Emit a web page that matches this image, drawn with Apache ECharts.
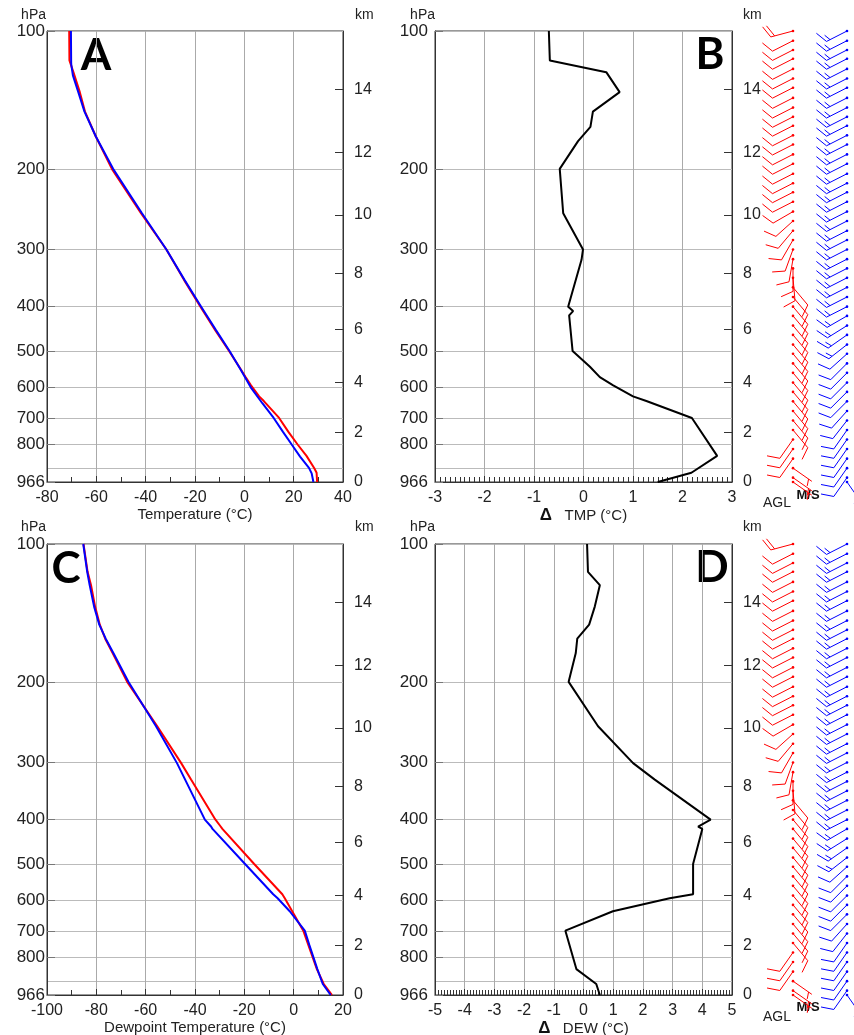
<!DOCTYPE html>
<html><head><meta charset="utf-8">
<script src="https://cdn.jsdelivr.net/npm/echarts@6/dist/echarts.min.js"></script>
<style>html,body{margin:0;padding:0;background:#fff}#c{width:854px;height:1035px}</style>
</head><body><div id="c"></div>
<script>
// ---------- axis ticks ----------
const P_TICKS = [100,200,300,400,500,600,700,800,900,966];
const KM_TICK_P = [966,754,585,449,338,252,184,134];
const KM_LABELS = ['0','2','4','6','8','10','12','14'];

// ---------- Panel A : temperature ----------
const A_BLUE_P = [100,118,125,135,150,170,200,250,300,350,400,450,500,550,600,650,700,750,800,850,900,925,966];
const A_BLUE_T = [-70.3,-70.2,-69.5,-67.5,-64.8,-60.2,-53.2,-41.5,-31.6,-24.2,-17.5,-11.5,-6.0,-1.4,2.6,7.3,11.9,15.6,19.2,22.6,26.2,27.3,28.0];
const A_RED_P = [100,116,123,136,150,170,200,250,300,350,400,450,500,541,570,594,628,643,700,750,800,847,900,922,966];
const A_RED_T = [-71.0,-70.9,-69.3,-66.7,-64.6,-60.2,-53.7,-41.9,-31.6,-24.4,-17.8,-11.8,-6.2,-2.1,0.5,2.7,6.0,7.9,14.1,17.8,21.6,25.2,28.3,29.3,29.5];

// ---------- Panel B : delta TMP ----------
const B_P = [100,116,123,136,150,162,174,200,250,300,316,400,409,418,500,541,570,594,628,643,700,847,922,966];
const B_D = [-0.70,-0.68,0.46,0.73,0.19,0.14,-0.11,-0.48,-0.41,-0.01,-0.04,-0.31,-0.21,-0.29,-0.22,0.13,0.33,0.60,1.00,1.27,2.19,2.70,2.18,1.50];

// ---------- Panel C : dewpoint ----------
const C_BLUE_P = [100,115,123,137,150,161,173,200,250,301,327,400,414,419,500,582,594,634,699,750,848,914,966];
const C_BLUE_T = [-85.3,-83.7,-82.7,-80.9,-78.8,-76.2,-73.1,-67.0,-55.8,-47.3,-44.0,-36.0,-33.5,-32.9,-19.7,-8.3,-6.5,-1.6,4.5,6.3,9.6,11.8,15.0];
const C_RED_P = [100,115,123,137,150,161,173,200,250,301,327,400,414,419,500,582,594,634,699,848,914,966];
const C_RED_T = [-85.2,-83.55,-82.15,-80.5,-78.6,-76.4,-73.4,-67.5,-55.3,-45.6,-41.6,-31.7,-29.6,-28.9,-16.0,-4.6,-3.6,-0.6,3.9,9.4,12.2,15.55];

// ---------- Panel D : delta DEW ----------
const D_P = [100,115,123,137,150,161,173,200,250,301,327,400,414,419,500,582,594,634,699,848,914,966];
const D_D = [0.12,0.15,0.55,0.38,0.19,-0.21,-0.26,-0.50,0.49,1.67,2.40,4.28,3.86,4.00,3.69,3.69,2.90,0.99,-0.61,-0.24,0.43,0.55];

// ---------- wind barbs (pressure hPa, speed m/s, direction deg) ----------
const BARB_P = [100,105,110,115,121,127,133,140,147,154,161,169,177,186,195,205,215,225,236,248,260,273,286,300,315,330,346,363,381,400,419,440,461,484,507,532,558,586,614,644,676,709,744,780,818,859,901,945,966];
const RED_BARB_SPD = [20,10,10,10,10,10,10,10,10,10,10,10,10,10,10,10,10,10,10,10,10,10,10,10,10,10,10,10,10,10,10,10,10,10,10,10,10,10,10,10,10,10,10,10,10,10,5,5,5];
const RED_BARB_DIR = [255,243,243,243,243,243,243,243,243,243,243,243,243,243,243,243,243,243,243,240,228,220,210,200,190,180,175,140,140,140,140,140,140,140,140,140,140,140,140,140,140,140,140,215,215,215,125,125,125];
const BLUE_BARB_SPD = [15,15,15,15,15,15,15,15,15,15,15,15,15,15,15,15,15,15,15,15,15,15,15,15,15,15,15,15,15,15,15,15,15,15,10,10,10,10,10,10,10,10,10,10,10,10,10,10,5];
const BLUE_BARB_DIR = [243,243,243,243,243,243,243,243,243,243,243,243,243,243,243,243,243,243,243,243,243,243,243,243,243,243,243,243,243,243,240,238,235,232,228,225,225,225,225,225,222,218,215,215,215,215,215,215,145];

const RED = '#ff0000', BLUE = '#0000ff';
const FONT = 'Liberation Sans, Arial, sans-serif';
const zip = (xs, ps) => xs.map((v, i) => [v, ps[i]]);
const nearestKm = v => { let bi = 0, bd = 1e9; KM_TICK_P.forEach((q, i) => { const d = Math.abs(q - v); if (d < bd) { bd = d; bi = i; } }); return KM_LABELS[bi]; };

function pAxis(grid, margin) {
  return {
    type: 'log', logBase: 10, gridIndex: grid, position: 'left', inverse: true, min: 100, max: 966,
    axisLine: {show: true, onZero: false, lineStyle: {color: '#333', width: 1}},
    axisTick: {show: true, inside: true, length: 8, customValues: P_TICKS, lineStyle: {color: '#777'}},
    axisLabel: {customValues: P_TICKS, margin: margin, color: '#222', fontSize: 17, fontFamily: FONT,
      hideOverlap: false, showMinLabel: true, showMaxLabel: true, formatter: v => String(Math.round(v))},
    splitLine: {show: true, lineStyle: {color: '#bbbbbb', width: 1}}
  };
}
function kmAxis(grid) {
  return {
    type: 'log', logBase: 10, gridIndex: grid, position: 'right', inverse: true, min: 100, max: 966,
    axisLine: {show: true, onZero: false, lineStyle: {color: '#333', width: 1}},
    axisTick: {show: true, inside: true, length: 8, customValues: KM_TICK_P, lineStyle: {color: '#333'}},
    axisLabel: {customValues: KM_TICK_P, margin: 11, color: '#222', fontSize: 16, fontFamily: FONT,
      hideOverlap: false, formatter: nearestKm},
    splitLine: {show: false}
  };
}
function xAxis(grid, min, max, interval, minorSplit, name) {
  return {
    type: 'value', gridIndex: grid, min: min, max: max, interval: interval,
    name: name, nameLocation: 'middle', nameGap: 22,
    nameTextStyle: {color: '#222', fontSize: 15, fontFamily: FONT,
      rich: {d: {fontSize: 17, fontWeight: 'bold', color: '#111', fontFamily: FONT}}},
    axisLine: {show: true, onZero: false, lineStyle: {color: '#333', width: 1}},
    axisTick: {show: true, inside: true, length: 6, lineStyle: {color: '#333'}},
    minorTick: {show: true, splitNumber: minorSplit, length: 5, lineStyle: {color: '#333'}},
    axisLabel: {margin: 8, color: '#222', fontSize: 16, fontFamily: FONT, hideOverlap: false},
    splitLine: {show: true, lineStyle: {color: '#aaaaaa', width: 1}}
  };
}
function hiddenX(grid) { return {type: 'value', gridIndex: grid, min: 0, max: 114, show: false}; }
function hiddenY(grid) { return {type: 'log', logBase: 10, gridIndex: grid, inverse: true, min: 100, max: 966, show: false}; }

function barbRender(params, api) {
  const p = api.value(1), spd = api.value(2), dir = api.value(3);
  const col = api.visual('color');
  const pt = api.coord([api.value(0), p]);
  const rad = dir * Math.PI / 180;
  const sx = Math.sin(rad), sy = -Math.cos(rad);
  const L = 23;
  const ex = pt[0] + sx * L, ey = pt[1] + sy * L;
  const a = 66 * Math.PI / 180;
  const bx = sx * Math.cos(a) - sy * Math.sin(a), by = sx * Math.sin(a) + sy * Math.cos(a);
  const st = {stroke: col, lineWidth: 1};
  const ch = [{type: 'line', shape: {x1: pt[0], y1: pt[1], x2: ex, y2: ey}, style: st}];
  let s = spd, d = 0;
  while (s >= 10) {
    const px = ex - sx * d, py = ey - sy * d;
    ch.push({type: 'line', shape: {x1: px, y1: py, x2: px + bx * 13, y2: py + by * 13}, style: st});
    d += 4; s -= 10;
  }
  if (s >= 5) {
    if (d === 0) d = 4;
    const px = ex - sx * d, py = ey - sy * d;
    ch.push({type: 'line', shape: {x1: px, y1: py, x2: px + bx * 7, y2: py + by * 7}, style: st});
  }
  ch.push({type: 'circle', shape: {cx: pt[0], cy: pt[1], r: 1.3}, style: {fill: col}});
  return {type: 'group', children: ch};
}
function barbData(xs, P, S, D) { return P.map((p, i) => [xs, p, S[i], D[i]]); }

const chart = echarts.init(document.getElementById('c'), null, {renderer: 'canvas'});
const lineS = (xi, yi, data, color, w) => ({type: 'line', xAxisIndex: xi, yAxisIndex: yi, data: data, showSymbol: false, symbol: 'none',
  silent: true, animation: false, clip: true, lineStyle: {color: color, width: w}, itemStyle: {color: color}});
const barbS = (xi, yi, data, color) => ({type: 'custom', xAxisIndex: xi, yAxisIndex: yi, coordinateSystem: 'cartesian2d',
  renderItem: barbRender, data: data, itemStyle: {color: color}, color: color, clip: false, silent: true, animation: false,
  encode: {x: 0, y: 1}});

const txt = (x, y, s, size, align, weight, family, color) => ({type: 'text', x: x, y: y,
  style: {text: s, fontSize: size, fontWeight: weight || 'normal', fontFamily: family || FONT,
    fill: color || '#222', align: align || 'left', verticalAlign: 'middle'}});

const gridOpt = (l, t, w, h, border) => ({left: l, top: t, width: w, height: h, show: !!border, borderColor: '#333', borderWidth: 1,
  containLabel: false, outerBoundsMode: 'none'});

chart.setOption({
  animation: false,
  backgroundColor: '#fff',
  grid: [
    gridOpt(47, 31, 296, 451, true),
    gridOpt(435, 31, 297, 451, true),
    gridOpt(47, 544, 296, 451, true),
    gridOpt(435, 544, 297, 451, true),
    gridOpt(740, 31, 114, 451, false),
    gridOpt(740, 544, 114, 451, false)
  ],
  xAxis: [
    xAxis(0, -80, 40, 20, 2, 'Temperature (°C)'),
    xAxis(1, -3, 3, 1, 10, '{d|Δ}   TMP (°C)'),
    xAxis(2, -100, 20, 20, 2, 'Dewpoint Temperature (°C)'),
    xAxis(3, -5, 5, 1, 10, '{d|Δ}   DEW (°C)'),
    hiddenX(4), hiddenX(5)
  ],
  yAxis: [
    pAxis(0, 2), kmAxis(0), pAxis(1, 7), kmAxis(1), pAxis(2, 2), kmAxis(2), pAxis(3, 7), kmAxis(3),
    hiddenY(4), hiddenY(5)
  ],
  series: [
    lineS(0, 0, zip(A_RED_T, A_RED_P), RED, 2),
    lineS(0, 0, zip(A_BLUE_T, A_BLUE_P), BLUE, 2),
    lineS(1, 2, zip(B_D, B_P), '#000', 2),
    lineS(2, 4, zip(C_RED_T, C_RED_P), RED, 2),
    lineS(2, 4, zip(C_BLUE_T, C_BLUE_P), BLUE, 2),
    lineS(3, 6, zip(D_D, D_P), '#000', 2),
    barbS(4, 8, barbData(53, BARB_P, RED_BARB_SPD, RED_BARB_DIR), RED),
    barbS(4, 8, barbData(107, BARB_P, BLUE_BARB_SPD, BLUE_BARB_DIR), BLUE),
    barbS(5, 9, barbData(53, BARB_P, RED_BARB_SPD, RED_BARB_DIR), RED),
    barbS(5, 9, barbData(107, BARB_P, BLUE_BARB_SPD, BLUE_BARB_DIR), BLUE)
  ],
  graphic: [
    txt(46, 15, 'hPa', 14, 'right'), txt(355, 15, 'km', 14, 'left'),
    txt(435, 15, 'hPa', 14, 'right'), txt(743, 15, 'km', 14, 'left'),
    txt(46, 527, 'hPa', 14, 'right'), txt(355, 527, 'km', 14, 'left'),
    txt(435, 527, 'hPa', 14, 'right'), txt(743, 527, 'km', 14, 'left'),
    txt(96, 56, 'A', 44, 'center', 'bold', 'Lato, Open Sans, sans-serif', '#000'),
    txt(710, 55, 'B', 44, 'center', 'bold', 'Lato, Open Sans, sans-serif', '#000'),
    txt(66, 569, 'C', 44, 'center', 'bold', 'Lato, Open Sans, sans-serif', '#000'),
    txt(712, 568, 'D', 44, 'center', 'bold', 'Lato, Open Sans, sans-serif', '#000'),
    txt(777, 503, 'AGL', 14, 'center'), txt(808, 495, 'M/S', 13, 'center', 'bold', FONT, '#111'),
    txt(777, 1017, 'AGL', 14, 'center'), txt(808, 1007, 'M/S', 13, 'center', 'bold', FONT, '#111')
  ]
});
</script></body></html>
